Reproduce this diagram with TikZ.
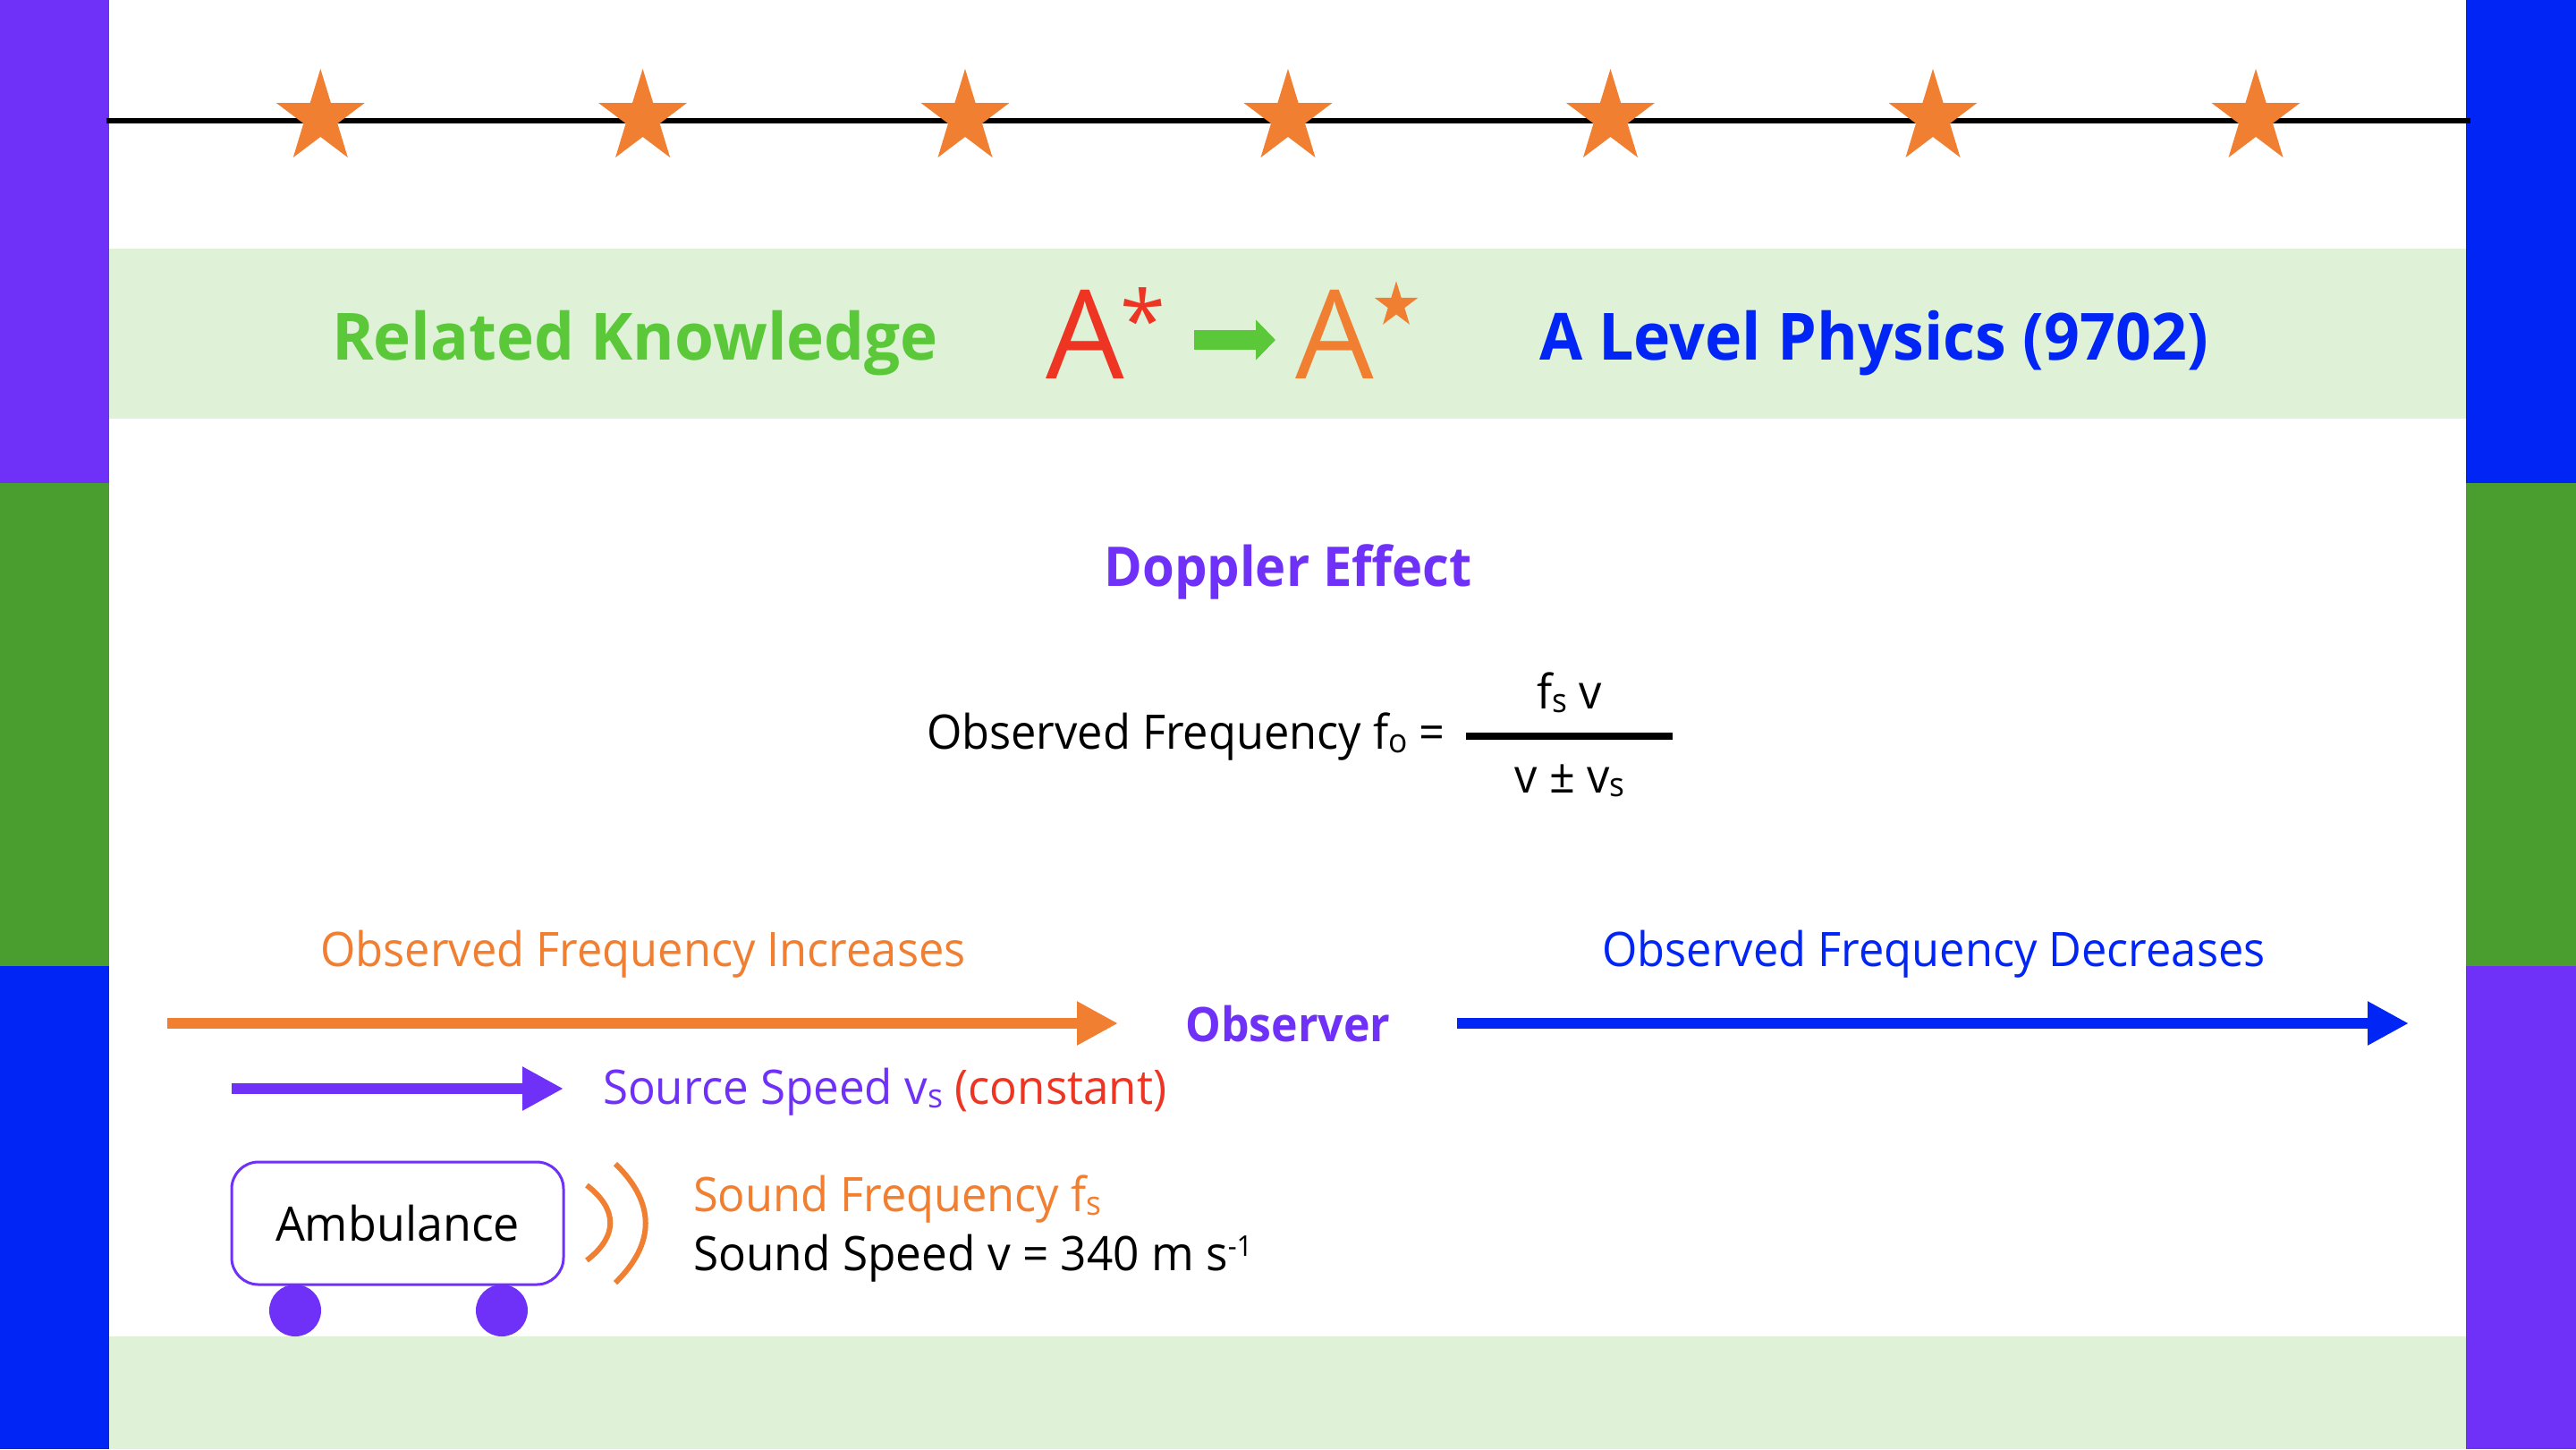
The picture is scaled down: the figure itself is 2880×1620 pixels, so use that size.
\documentclass[tikz,border=0pt]{standalone}
\usepackage{fontspec}
\setmainfont{Open Sans}
\usetikzlibrary{arrows.meta}
\definecolor{cpurple}{HTML}{6F30F7}
\definecolor{cgreen}{HTML}{4A9E30}
\definecolor{cblue}{HTML}{0025F5}
\definecolor{cband}{HTML}{DFF2D8}
\definecolor{corange}{HTML}{F07F31}
\definecolor{cred}{HTML}{EE3524}
\definecolor{cbright}{HTML}{5BC83A}
\newcommand{\sbs}[1]{\raisebox{-1.1pt}{\fontsize{9.3}{10}\selectfont #1}}
\newcommand{\starat}[3]{\fill[corange,shift={(#1,#2)},scale=#3] (0,-49.5) -- (11.6,-11.5) -- (49.5,-11.5) -- (19,11.5) -- (30.5,49.5) -- (0,26.5) -- (-30.5,49.5) -- (-19,11.5) -- (-49.5,-11.5) -- (-11.6,-11.5) -- cycle;}
\newcommand{\fnt}[2]{\fontsize{#1}{20}\selectfont\addfontfeature{FakeStretch=#2}}
\newcommand{\fnb}[2]{\fontsize{#1}{20}\selectfont\bfseries\addfontfeature{FakeStretch=#2}}
\tikzset{
  plainbox/.style={inner sep=0pt,outer sep=0pt},
  txt/.style={plainbox,anchor=base west,font=\fnt{13.3}{0.95}},
  txtc/.style={plainbox,anchor=base,font=\fnt{13.3}{0.95}},
  bigA/.style={plainbox,anchor=base west,font=\fontsize{34.6}{36}\selectfont},
  bigarrow/.style={line width=3pt,-{Triangle[length=11.5pt,width=11.5pt]}},
  wheel/.style={circle,fill=cpurple,draw=none,inner sep=0pt,minimum size=14.5pt},
  wave/.style={corange,line width=1.5pt}
}
\begin{document}
\begin{tikzpicture}[x=0.25pt,y=-0.25pt]
\useasboundingbox (0,0) rectangle (2880,1620);
\fill[white] (0,0) rectangle (2880,1620);
\fill[cpurple] (0,0) rectangle (122,540);
\fill[cgreen] (0,540) rectangle (122,1080);
\fill[cblue] (0,1080) rectangle (122,1620);
\fill[cblue] (2757,0) rectangle (2880,540);
\fill[cgreen] (2757,540) rectangle (2880,1080);
\fill[cpurple] (2757,1080) rectangle (2880,1620);
\fill[cband] (122,278) rectangle (2757,468);
\fill[cband] (122,1494) rectangle (2757,1620);
\coordinate (lineL) at (119,135);
\coordinate (lineR) at (2762,135);
\draw[black,line width=1.5pt] (lineL) -- (lineR);
\starat{358.3}{126.5}{1}
\starat{718.6}{126.5}{1}
\starat{1079}{126.5}{1}
\starat{1440}{126.5}{1}
\starat{1800.5}{126.5}{1}
\starat{2161}{126.5}{1}
\starat{2522}{126.5}{1}
\node[plainbox,anchor=base west,font=\fnb{18.2}{0.976},text=cbright] (rk) at (371,402) {Related Knowledge};
\node[bigA,text=cred] (a1) at (1169,423) {A};
\node[plainbox,anchor=base west,font=\fontsize{23}{24}\selectfont,text=cred] (ast) at (1252,391) {*};
\coordinate (gL) at (1335,380);
\coordinate (gR) at (1426,380);
\draw[cbright,line width=5.5pt,-{Triangle[length=5.5pt,width=11pt]}] (gL) -- (gR);
\node[bigA,text=corange] (a2) at (1448,423) {A};
\starat{1561}{338.5}{0.49}
\node[plainbox,anchor=base west,font=\fnb{18.2}{0.96},text=cblue] (al) at (1721,402) {A Level Physics (9702)};
\node[plainbox,anchor=base,font=\fnb{15.3}{0.945},text=cpurple] (dop) at (1440,655) {Doppler Effect};
\node[txt] (of) at (1036,837) {Observed Frequency f\sbs{o} =};
\node[txtc] (num) at (1755,792) {f\sbs{s} v};
\node[txtc] (den) at (1755,886) {v ± v\sbs{s}};
\coordinate (fL) at (1639,823);
\coordinate (fR) at (1870,823);
\draw[black,line width=2pt] (fL) -- (fR);
\node[txtc,text=corange] (inc) at (719,1080) {Observed Frequency Increases};
\node[txtc,text=cblue] (decr) at (2162,1080) {Observed Frequency Decreases};
\coordinate (oL) at (187,1144);
\coordinate (oR) at (1250,1144);
\draw[corange,bigarrow] (oL) -- (oR);
\coordinate (bL) at (1629,1144);
\coordinate (bR) at (2693,1144);
\draw[cblue,bigarrow] (bL) -- (bR);
\node[plainbox,anchor=base,font=\fnb{13.3}{0.94},text=cpurple] (obs) at (1440,1164) {Observer};
\coordinate (pL) at (259,1217);
\coordinate (pR) at (630,1217);
\draw[cpurple,bigarrow] (pL) -- (pR);
\node[plainbox,anchor=base west,font=\fnt{13.3}{0.96},text=cpurple] (src) at (674,1234) {Source Speed v\sbs{s} \textcolor{cred}{(constant)}};
\node[wheel] (w1) at (330,1465) {};
\node[wheel] (w2) at (561,1465) {};
\node[draw=cpurple,fill=white,line width=0.75pt,rounded corners=7.5pt,minimum width=92.75pt,minimum height=34.25pt,inner sep=0pt,outer sep=0pt] (amb) at (444.5,1367.5) {};
\node[plainbox,anchor=base,font=\fnt{13.3}{0.977}] (ambt) at (444.5,1387) {Ambulance};
\coordinate (i1) at (656,1325);
\coordinate (i2) at (656,1409);
\coordinate (u1) at (688,1301);
\coordinate (u2) at (688,1434);
\draw[wave] (i1) .. controls (691,1352) and (691,1382) .. (i2);
\draw[wave] (u1) .. controls (733,1345) and (733,1390) .. (u2);
\node[txt,text=corange] (sf) at (775,1354) {Sound Frequency f\sbs{s}};
\node[plainbox,anchor=base west,font=\fnt{13.3}{0.965}] (ss) at (775,1420) {Sound Speed v = 340 m s\raisebox{4pt}{\fontsize{8}{10}\selectfont -1}};
\end{tikzpicture}
\end{document}
